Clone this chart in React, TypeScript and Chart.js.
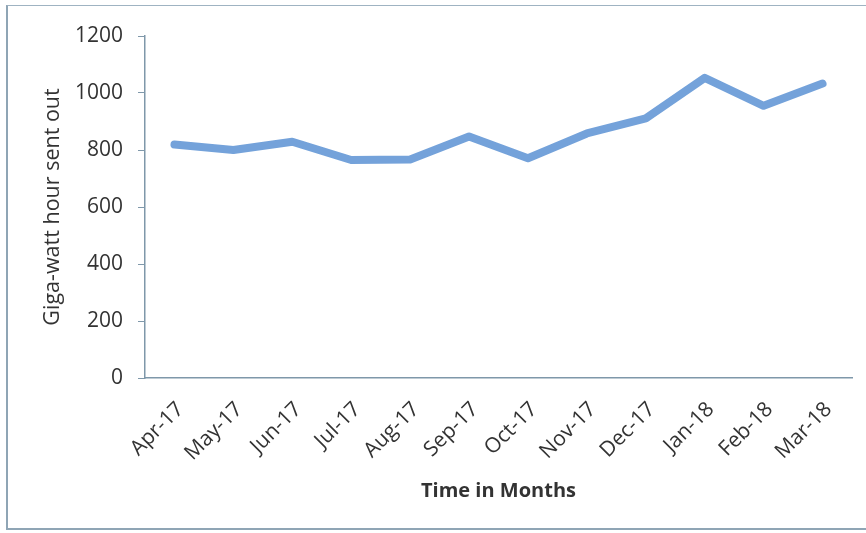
import React, { useEffect, useRef } from "react";
import { Chart, registerables } from "chart.js";

Chart.register(...registerables);

const months = ["Apr-17", "May-17", "Jun-17", "Jul-17", "Aug-17", "Sep-17", "Oct-17", "Nov-17", "Dec-17", "Jan-18", "Feb-18", "Mar-18"];
const gwhSentOut = [819, 800, 829, 765, 767, 847, 771, 858, 911, 1053, 955, 1033];
const yMin = 0;
const yMax = 1200;
const yStep = 200;
const xTitle = "Time in Months";
const yTitle = "Giga-watt hour sent out";

const FONT = "'Open Sans', Lato, sans-serif";
const TEXT = "#333333";
const AXIS = "#7f98aa";

export default function App() {
  const ref = useRef<HTMLCanvasElement | null>(null);
  useEffect(() => {
    if (!ref.current) return;
    const chart = new Chart(ref.current, {
      type: "line",
      data: {
        labels: months,
        datasets: [
          {
            data: gwhSentOut,
            borderColor: "#74a2da",
            borderWidth: 8,
            borderCapStyle: "round",
            borderJoinStyle: "round",
            pointRadius: 0,
            tension: 0,
            fill: false,
          },
        ],
      },
      options: {
        animation: false,
        responsive: false,
        devicePixelRatio: 1,
        layout: { padding: { left: 0, top: 36, right: 14, bottom: 0 } },
        plugins: { legend: { display: false }, tooltip: { enabled: false } },
        scales: {
          x: {
            offset: true,
            grid: { display: true, drawOnChartArea: false, drawTicks: false, color: AXIS },
            border: { display: true, color: AXIS, width: 1.5 },
            ticks: {
              maxRotation: 45,
              minRotation: 45,
              autoSkip: false,
              padding: 19,
              labelOffset: 6,
              color: TEXT,
              font: { family: FONT, size: 21 },
            },
            title: {
              display: true,
              text: xTitle,
              color: TEXT,
              font: { family: FONT, size: 20, weight: "bold" },
              padding: { top: 0, bottom: 30 },
            },
            afterFit: (s: any) => {
              s.height = 533 - 378;
            },
          },
          y: {
            min: yMin,
            max: yMax,
            ticks: {
              stepSize: yStep,
              padding: 15,
              color: TEXT,
              font: { family: FONT, size: 21 },
              callback: (v: any) => String(v),
            },
            grid: { display: true, drawOnChartArea: false, drawTicks: true, tickLength: 7, color: AXIS },
            border: { display: true, color: AXIS, width: 1.5 },
            title: {
              display: true,
              text: yTitle,
              color: TEXT,
              font: { family: FONT, size: 21.5 },
              padding: { top: 40, bottom: 0 },
            },
            afterFit: (s: any) => {
              s.width = 145;
            },
          },
        },
      },
    });
    return () => chart.destroy();
  }, []);
  return (
    <div style={{ position: "fixed", left: 0, top: 0, width: 866, height: 533, background: "#fff", overflow: "hidden" }}>
      <div
        style={{
          position: "absolute",
          left: 6,
          top: 5,
          width: 900,
          height: 525,
          borderTop: "1.5px solid #9fb3c2",
          borderLeft: "2px solid #8fa5b5",
          borderBottom: "2px solid #8fa5b5",
          boxSizing: "border-box",
        }}
      />
      <canvas ref={ref} width={866} height={533} style={{ position: "absolute", left: 0, top: 0 }} />
    </div>
  );
}
